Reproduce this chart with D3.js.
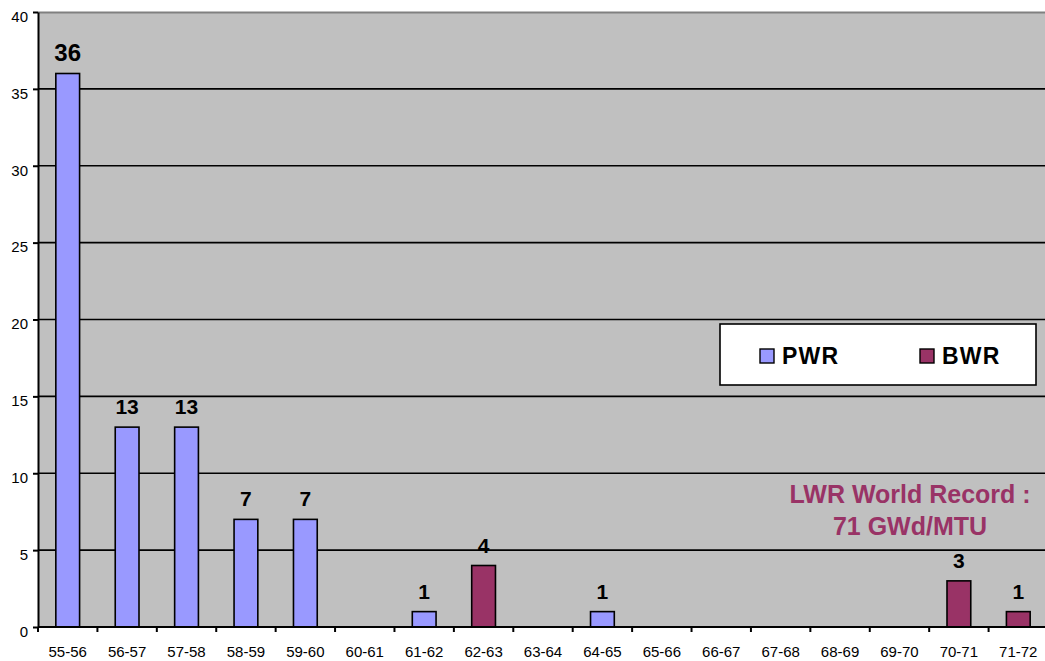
<!DOCTYPE html>
<html>
<head>
<meta charset="utf-8">
<script src="https://cdn.jsdelivr.net/npm/d3@7"></script>
<style>
  html, body { margin: 0; padding: 0; background: #ffffff; }
  svg { display: block; font-family: "Liberation Sans", Arial, sans-serif; }
</style>
</head>
<body>
<svg id="chart" width="1045" height="661"></svg>
<script>
// Burnup classes (GWd/MTU) and assembly counts per reactor type
const categories = ["55-56","56-57","57-58","58-59","59-60","60-61","61-62","62-63","63-64",
                    "64-65","65-66","66-67","67-68","68-69","69-70","70-71","71-72"];
const pwrValues = [36, 13, 13, 7, 7, 0, 1, 0, 0, 1, 0, 0, 0, 0, 0, 0, 0];
const bwrValues = [0, 0, 0, 0, 0, 0, 0, 4, 0, 0, 0, 0, 0, 0, 0, 3, 1];
const yTicks = [0, 5, 10, 15, 20, 25, 30, 35, 40];
const seriesNames = ["PWR", "BWR"];
const seriesColors = ["#9999FF", "#993366"];
const noteLines = ["LWR World Record :", "71 GWd/MTU"];

const svg = d3.select("#chart");
const plotLeft = 38, plotTop = 12, plotBottom = 627;
const plotW = 1010;

const x = d3.scaleBand().domain(categories).range([plotLeft, plotLeft + plotW])
  .paddingInner(0.6).paddingOuter(0.3);
const y = d3.scaleLinear().domain([0, 40]).range([plotBottom, plotTop]);

// plot background
svg.append("rect").attr("x", plotLeft).attr("y", plotTop)
  .attr("width", plotW).attr("height", plotBottom - plotTop).attr("fill", "#C0C0C0");

// gridlines
svg.append("g").selectAll("line").data(yTicks.filter(v => v > 0 && v < 40)).join("line")
  .attr("x1", plotLeft).attr("x2", plotLeft + plotW)
  .attr("y1", d => y(d)).attr("y2", d => y(d))
  .attr("stroke", "#000").attr("stroke-width", 1.6);

// top border of plot area
svg.append("line").attr("x1", plotLeft).attr("x2", plotLeft + plotW)
  .attr("y1", plotTop + 0.5).attr("y2", plotTop + 0.5)
  .attr("stroke", "#808080").attr("stroke-width", 2);

// bars
const rows = [];
categories.forEach((c, i) => {
  if (pwrValues[i] > 0) rows.push({ c, v: pwrValues[i], s: 0 });
  if (bwrValues[i] > 0) rows.push({ c, v: bwrValues[i], s: 1 });
});
const maxVal = d3.max(rows, d => d.v);

svg.append("g").selectAll("rect").data(rows).join("rect")
  .attr("x", d => x(d.c))
  .attr("y", d => y(d.v))
  .attr("width", x.bandwidth())
  .attr("height", d => y(0) - y(d.v))
  .attr("fill", d => seriesColors[d.s])
  .attr("stroke", "#000").attr("stroke-width", 1.6);

// value labels
svg.append("g").selectAll("text").data(rows).join("text")
  .attr("x", d => x(d.c) + x.bandwidth() / 2)
  .attr("y", d => y(d.v) - 13)
  .attr("text-anchor", "middle")
  .attr("font-weight", "bold")
  .attr("font-size", d => d.v === maxVal ? 24 : 21)
  .attr("fill", "#000")
  .text(d => d.v);

// y axis
const yAxis = d3.axisLeft(y).tickValues(yTicks).tickSize(5).tickSizeOuter(0);
const gy = svg.append("g").attr("transform", `translate(${plotLeft},0)`).call(yAxis);
gy.select(".domain").attr("stroke", "#000").attr("stroke-width", 2);
gy.selectAll(".tick line").attr("stroke", "#000").attr("stroke-width", 2);
gy.selectAll(".tick text").attr("font-size", 15).attr("fill", "#000")
  .attr("x", -10).attr("dy", "0.62em")
  .attr("font-family", "Liberation Sans, Arial, sans-serif");

// x axis with ticks at category boundaries
const gx = svg.append("g");
gx.append("line").attr("x1", plotLeft).attr("x2", plotLeft + plotW)
  .attr("y1", plotBottom).attr("y2", plotBottom).attr("stroke", "#000").attr("stroke-width", 2);
const step = x.step();
gx.selectAll("line.tk").data(d3.range(categories.length + 1)).join("line")
  .attr("class", "tk")
  .attr("x1", i => plotLeft + i * step).attr("x2", i => plotLeft + i * step)
  .attr("y1", plotBottom).attr("y2", plotBottom + 5)
  .attr("stroke", "#000").attr("stroke-width", 2);
gx.selectAll("text").data(categories).join("text")
  .attr("x", d => x(d) + x.bandwidth() / 2)
  .attr("y", 657)
  .attr("text-anchor", "middle")
  .attr("font-size", 15).attr("fill", "#000")
  .text(d => d);

// legend
const lg = svg.append("g");
lg.append("rect").attr("x", 720).attr("y", 324).attr("width", 316).attr("height", 61)
  .attr("fill", "#fff").attr("stroke", "#000").attr("stroke-width", 1.6);
const legendX = [760, 920];
seriesNames.forEach((name, i) => {
  lg.append("rect").attr("x", legendX[i]).attr("y", 349).attr("width", 14).attr("height", 14)
    .attr("fill", seriesColors[i]).attr("stroke", "#000").attr("stroke-width", 1.4);
  lg.append("text").attr("x", legendX[i] + 22).attr("y", 364)
    .attr("font-size", 23).attr("font-weight", "bold").attr("fill", "#000")
    .attr("letter-spacing", 1.2)
    .text(name);
});

// annotation
svg.append("g").selectAll("text").data(noteLines).join("text")
  .attr("x", 910)
  .attr("y", (d, i) => 503 + i * 32)
  .attr("text-anchor", "middle")
  .attr("font-size", 25).attr("font-weight", "bold").attr("fill", "#993366")
  .text(d => d);
</script>
</body>
</html>
